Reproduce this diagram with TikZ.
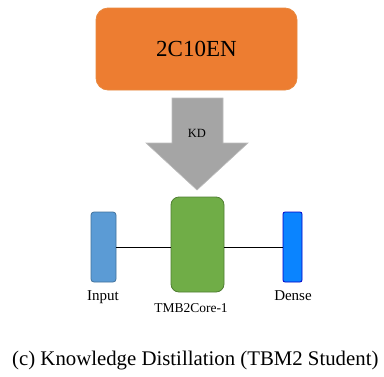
\documentclass[tikz,border=0pt]{standalone}
\usepackage{fontspec}
\setmainfont{Liberation Serif}
\definecolor{orangefill}{HTML}{ED7D31}
\definecolor{orangeedge}{HTML}{E8893F}
\definecolor{grayfill}{HTML}{A5A5A5}
\definecolor{grayedge}{HTML}{BDBDBD}
\definecolor{inputfill}{HTML}{5B9BD5}
\definecolor{inputedge}{HTML}{41719C}
\definecolor{corefill}{HTML}{70AD47}
\definecolor{coreedge}{HTML}{507E32}
\definecolor{densefill}{HTML}{0A84FF}
\definecolor{denseedge}{HTML}{0000C8}
\tikzset{
  blockbox/.style={rectangle, inner sep=0pt, line width=0.8pt},
  lbl/.style={anchor=base, inner sep=0pt},
  link/.style={draw=black, line width=0.7pt}
}
\begin{document}
\begin{tikzpicture}[x=1pt,y=-1pt]
\useasboundingbox (0,0) rectangle (384,376);
\node[blockbox, fill=orangefill, draw=orangeedge, rounded corners=12pt,
  minimum width=201pt, minimum height=82pt] (teacher) at (196.5,49)
  {\fontsize{23}{26}\selectfont 2C10EN};
\draw[fill=grayfill, draw=grayedge, line width=0.6pt]
  (172,98) -- (223,98) -- (223,143) -- (248,143) -- (197,190) -- (146,143) -- (172,143) -- cycle;
\node[inner sep=0pt] (kd) at (197,133) {\fontsize{12.5}{14}\selectfont KD};
\node[blockbox, fill=inputfill, draw=inputedge, rounded corners=3pt,
  minimum width=25pt, minimum height=70pt] (inp) at (103.5,247) {};
\node[blockbox, fill=corefill, draw=coreedge, rounded corners=8pt,
  minimum width=53pt, minimum height=95pt] (core) at (197.5,244.5) {};
\node[blockbox, fill=densefill, draw=denseedge, rounded corners=2pt,
  minimum width=19pt, minimum height=70pt] (dense) at (292.5,247) {};
\draw[link] (inp.east) -- (inp.east -| core.west);
\draw[link] (core.east |- dense.west) -- (dense.west);
\node[lbl] (inplbl) at (103,300) {\fontsize{15}{17}\selectfont Input};
\node[lbl] (corelbl) at (191,312.5) {\fontsize{13.5}{16}\selectfont TMB2Core-1};
\node[lbl] (denselbl) at (293,300) {\fontsize{15}{17}\selectfont Dense};
\node[anchor=base west, inner sep=0pt] (caption) at (12,365)
  {\fontsize{20.8}{25}\selectfont (c) Knowledge Distillation (TBM2 Student)};
\end{tikzpicture}
\end{document}
